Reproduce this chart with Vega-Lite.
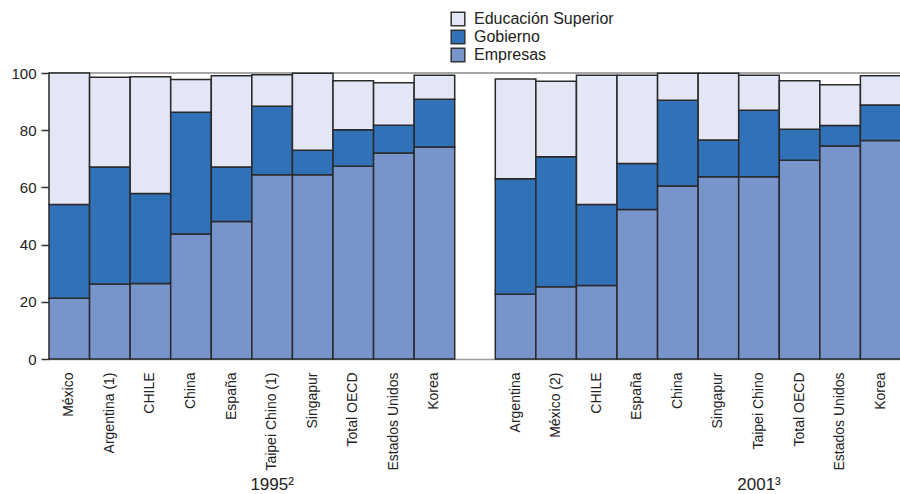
{
  "$schema": "https://vega.github.io/schema/vega-lite/v6.json",
  "width": 852,
  "height": 286,
  "padding": {"left": 10, "top": 11, "right": 0, "bottom": 0},
  "background": "white",
  "config": {"font": "Liberation Sans", "view": {"stroke": null}},
  "data": {
    "values": [
      {"anio": "1995", "pais": "México", "Empresas": 21.2, "Gobierno": 32.8, "Educación Superior": 46.0},
      {"anio": "1995", "pais": "Argentina (1)", "Empresas": 26.2, "Gobierno": 40.9, "Educación Superior": 31.4},
      {"anio": "1995", "pais": "CHILE", "Empresas": 26.4, "Gobierno": 31.5, "Educación Superior": 40.8},
      {"anio": "1995", "pais": "China", "Empresas": 43.7, "Gobierno": 42.6, "Educación Superior": 11.4},
      {"anio": "1995", "pais": "España", "Empresas": 48.1, "Gobierno": 19.0, "Educación Superior": 31.9},
      {"anio": "1995", "pais": "Taipei Chino (1)", "Empresas": 64.4, "Gobierno": 24.0, "Educación Superior": 11.0},
      {"anio": "1995", "pais": "Singapur", "Empresas": 64.4, "Gobierno": 8.6, "Educación Superior": 26.9},
      {"anio": "1995", "pais": "Total OECD", "Empresas": 67.4, "Gobierno": 12.8, "Educación Superior": 17.1},
      {"anio": "1995", "pais": "Estados Unidos", "Empresas": 72.0, "Gobierno": 9.7, "Educación Superior": 14.9},
      {"anio": "1995", "pais": "Korea", "Empresas": 74.1, "Gobierno": 16.7, "Educación Superior": 8.4},
      {"anio": "2001", "pais": "Argentina", "Empresas": 22.6, "Gobierno": 40.4, "Educación Superior": 34.9},
      {"anio": "2001", "pais": "México (2)", "Empresas": 25.3, "Gobierno": 45.4, "Educación Superior": 26.4},
      {"anio": "2001", "pais": "CHILE", "Empresas": 25.7, "Gobierno": 28.3, "Educación Superior": 45.2},
      {"anio": "2001", "pais": "España", "Empresas": 52.3, "Gobierno": 16.1, "Educación Superior": 30.8},
      {"anio": "2001", "pais": "China", "Empresas": 60.5, "Gobierno": 30.0, "Educación Superior": 9.4},
      {"anio": "2001", "pais": "Singapur", "Empresas": 63.7, "Gobierno": 12.9, "Educación Superior": 23.3},
      {"anio": "2001", "pais": "Taipei Chino", "Empresas": 63.7, "Gobierno": 23.3, "Educación Superior": 12.2},
      {"anio": "2001", "pais": "Total OECD", "Empresas": 69.5, "Gobierno": 10.8, "Educación Superior": 17.0},
      {"anio": "2001", "pais": "Estados Unidos", "Empresas": 74.5, "Gobierno": 7.1, "Educación Superior": 14.3},
      {"anio": "2001", "pais": "Korea", "Empresas": 76.4, "Gobierno": 12.4, "Educación Superior": 10.2}
    ]
  },
  "transform": [
    {"fold": ["Empresas", "Gobierno", "Educación Superior"], "as": ["tipo", "valor"]},
    {"calculate": "datum.anio + '|' + datum.pais", "as": "clave"},
    {"calculate": "indexof(['Empresas','Gobierno','Educación Superior'], datum.tipo)", "as": "orden"}
  ],
  "layer": [
    {
      "data": {"values": [{}]},
      "mark": {"type": "rule", "color": "#8a8a8a", "strokeWidth": 1.5},
      "encoding": {"y": {"datum": 100}}
    },
    {
      "mark": {"type": "bar", "stroke": "#2a2a2a", "strokeWidth": 1.5},
      "encoding": {
        "x": {
          "field": "clave", "type": "nominal",
          "scale": {"domain": ["1995|México","1995|Argentina (1)","1995|CHILE","1995|China","1995|España","1995|Taipei Chino (1)","1995|Singapur","1995|Total OECD","1995|Estados Unidos","1995|Korea","gap","2001|Argentina","2001|México (2)","2001|CHILE","2001|España","2001|China","2001|Singapur","2001|Taipei Chino","2001|Total OECD","2001|Estados Unidos","2001|Korea"], "paddingInner": 0, "paddingOuter": 0},
          "axis": {"labelExpr": "split(datum.value, '|')[1] || ''", "labelAngle": -90, "labelFontSize": 14, "labelColor": "#222", "ticks": false, "labelPadding": 13, "domainColor": "#9a9a9a", "domainWidth": 1.5, "title": null}
        },
        "y": {
          "field": "valor", "type": "quantitative", "stack": "zero",
          "scale": {"domain": [0, 100], "nice": false},
          "axis": {"values": [0, 20, 40, 60, 80, 100], "tickSize": 8, "labelPadding": 5, "labelFontSize": 15, "labelColor": "#222", "grid": false, "domain": false, "title": null, "tickColor": "#333", "tickWidth": 1.5}
        },
        "color": {
          "field": "tipo", "type": "nominal",
          "scale": {"domain": ["Educación Superior", "Gobierno", "Empresas"], "range": ["#E2E6F5", "#3171B8", "#7895CB"]},
          "legend": {"orient": "none", "legendX": 401, "legendY": -62, "title": null, "symbolType": "square", "symbolSize": 185, "symbolStrokeColor": "#333", "symbolStrokeWidth": 1.5, "labelFontSize": 16, "labelColor": "#222", "rowPadding": -2, "padding": 0, "labelOffset": 8}
        },
        "order": {"field": "orden", "type": "quantitative", "sort": "ascending"}
      }
    },
    {
      "mark": {"type": "point", "opacity": 0},
      "encoding": {
        "x": {
          "field": "clave", "type": "nominal",
          "scale": {"domain": ["1995|México","1995|Argentina (1)","1995|CHILE","1995|China","1995|España","1995|Taipei Chino (1)","1995|Singapur","1995|Total OECD","1995|Estados Unidos","1995|Korea","gap","2001|Argentina","2001|México (2)","2001|CHILE","2001|España","2001|China","2001|Singapur","2001|Taipei Chino","2001|Total OECD","2001|Estados Unidos","2001|Korea"], "paddingInner": 0, "paddingOuter": 0},
          "axis": {"orient": "bottom", "values": ["1995|Taipei Chino (1)", "2001|Taipei Chino"], "labelExpr": "datum.value == '1995|Taipei Chino (1)' ? '1995²' : '2001³'", "labelAngle": 0, "labelBaseline": "top", "labelAlign": "center", "labelPadding": 117, "ticks": false, "domain": false, "labelFontSize": 17, "labelColor": "#222", "title": null}
        }
      }
    }
  ],
  "resolve": {"axis": {"x": "independent"}}
}
